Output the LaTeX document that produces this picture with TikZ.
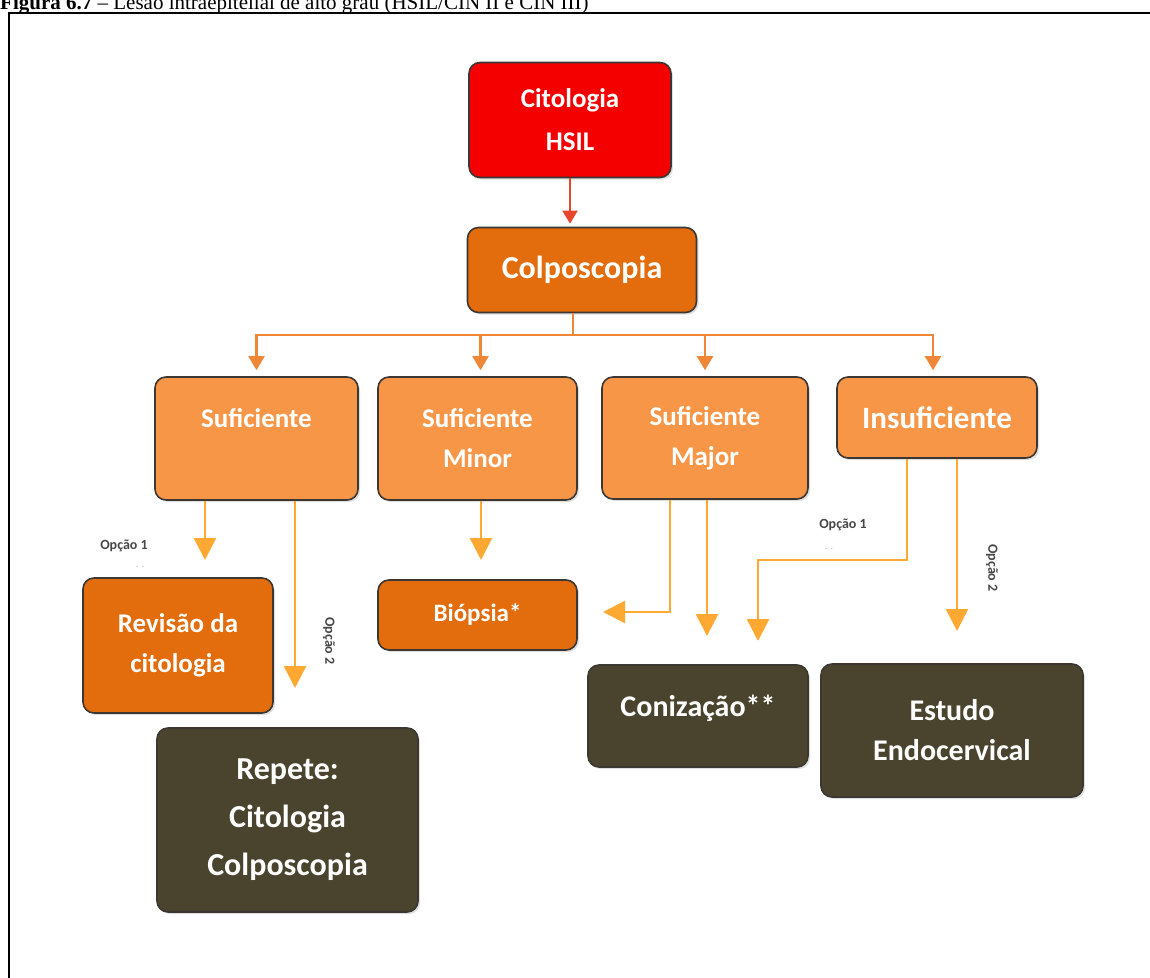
\documentclass[tikz,border=0pt]{standalone}
\usepackage{fontspec}
\setsansfont{Carlito}
\newfontfamily\tnr{Liberation Serif}
\usetikzlibrary{arrows.meta,shadows,calc}
\definecolor{hsilred}{RGB}{245,0,0}
\definecolor{darkor}{RGB}{227,108,12}
\definecolor{lightor}{RGB}{247,150,70}
\definecolor{brownbox}{RGB}{74,68,46}
\definecolor{edgecol}{RGB}{60,55,50}
\definecolor{connA}{RGB}{240,135,55}
\definecolor{connB}{RGB}{255,168,50}
\definecolor{redarrow}{RGB}{232,70,45}
\definecolor{optcol}{RGB}{70,70,70}
\begin{document}
\begin{tikzpicture}[x=1pt,y=-1pt,
  box/.style={draw=edgecol, line width=1.6pt, rounded corners=11pt, text=white,
    align=center, inner sep=0pt,
    drop shadow={opacity=0.25,shadow xshift=2pt,shadow yshift=-2pt}},
  fs/.style 2 args={font=\sffamily\bfseries\fontsize{#1}{#2}\selectfont},
  redbox/.style={box, fill=hsilred},
  dobox/.style={box, fill=darkor},
  lobox/.style={box, fill=lightor},
  brbox/.style={box, fill=brownbox},
  redconn/.style={draw=redarrow, line width=2pt, -{Triangle[width=15pt,length=13pt]}, shorten >=3pt},
  busconn/.style={draw=connA, line width=2.2pt},
  topconn/.style={busconn, -{Triangle[width=16pt,length=14pt]}, shorten >=6pt},
  lowconn/.style={draw=connB, line width=2.5pt, -{Triangle[width=22pt,length=22pt]}},
  optlabel/.style={text=optcol, font=\sffamily\bfseries\fontsize{14}{16}\selectfont, inner sep=0pt},
  dotlabel/.style={text=gray!70, font=\sffamily\fontsize{10}{10}\selectfont, inner sep=0pt}
]
\useasboundingbox (0,0) rectangle (1150,977);
\clip (0,0) rectangle (1150,977);

% title (cut off at top, as in the reference) and frame
\node[anchor=base west, inner sep=0pt, font=\tnr\fontsize{21}{24}\selectfont] (title) at (0,9.5)
  {\textbf{Figura 6.7} – Lesão intraepitelial de alto grau (HSIL/CIN II e CIN III)};
\draw[line width=2pt] (9,1000) -- (9,13) -- (1170,13);

% boxes
\node[redbox, fs={27}{43}, minimum width=202pt, minimum height=115pt] (cit) at (570,120) {Citologia\\HSIL};
\node[dobox, fs={32}{40}, minimum width=229pt, minimum height=85pt] (col) at (582,270) {Colposcopia};

\node[lobox, fs={27}{40}, minimum width=203pt, minimum height=123pt] (suf) at (256.5,438.5) {Suficiente\\\mbox{}};
\node[lobox, fs={27}{40}, minimum width=199pt, minimum height=123pt] (min) at (477.5,438.5) {Suficiente\\Minor};
\node[lobox, fs={27}{40}, minimum width=206pt, minimum height=122pt] (maj) at (705,438) {Suficiente\\Major};
\node[lobox, fs={31}{40}, minimum width=200pt, minimum height=81pt] (ins) at (937,417.5) {Insuficiente};

\node[dobox, fs={27}{40}, minimum width=190pt, minimum height=135pt] (rev) at (178,645.5) {Revisão da\\citologia};
\node[dobox, fs={25}{30}, minimum width=199pt, minimum height=70pt] (bio) at (477.5,615) {Biópsia*};

\node[brbox, fs={30}{40}, minimum width=220pt, minimum height=102pt] (con) at (698,716) {\raisebox{0pt}[0pt][0pt]{Conização**}};
\node[brbox, fs={30}{40}, minimum width=262pt, minimum height=133pt] (est) at (952,730.5) {Estudo\\Endocervical};
\node[brbox, fs={32}{48}, minimum width=261pt, minimum height=184pt] (rep) at (287.5,820) {Repete:\\Citologia\\Colposcopia};

% top connectors
\draw[redconn] (cit.south) -- (cit.south |- col.north);
\coordinate (bus) at (573,335);
\draw[busconn] (col.south -| bus) -- (bus);
\draw[topconn] (bus) -| (suf.north);
\draw[topconn] (bus) -| ([xshift=3pt]min.north);
\draw[topconn] (bus) -| (maj.north);
\draw[topconn] (bus) -| ([xshift=-4pt]ins.north);

% lower connectors
\coordinate (s1) at (205,560);
\coordinate (s2) at (295,688);
\draw[lowconn] (suf.south -| s1) -- (s1);
\draw[lowconn] (suf.south -| s2) -- (s2);

\coordinate (m1) at (481,560);
\draw[lowconn] (min.south -| m1) -- (m1);

\coordinate (j1) at (670,612);
\coordinate (j1tip) at (603,612);
\draw[lowconn] (maj.south -| j1) -- (j1) -- (j1tip);
\coordinate (j2) at (707,636);
\draw[lowconn] (maj.south -| j2) -- (j2);

\coordinate (i1) at (907,560);
\coordinate (i1b) at (758,560);
\coordinate (i1tip) at (758,641);
\draw[lowconn] (ins.south -| i1) -- (i1) -- (i1b) -- (i1tip);
\coordinate (i2) at (957,631);
\draw[lowconn] (ins.south -| i2) -- (i2);

% option labels
\node[optlabel] (op1a) at (124,546) {Opção 1};
\node[dotlabel] (dta) at (140,567) {.\,\,.};
\node[optlabel, rotate=-90] (op2a) at (329,641) {Opção 2};
\node[optlabel] (op1b) at (843,525) {Opção 1};
\node[dotlabel] (dtb) at (829,549) {.\,\,.};
\node[optlabel, rotate=-90] (op2b) at (992,568) {Opção 2};
\end{tikzpicture}
\end{document}
